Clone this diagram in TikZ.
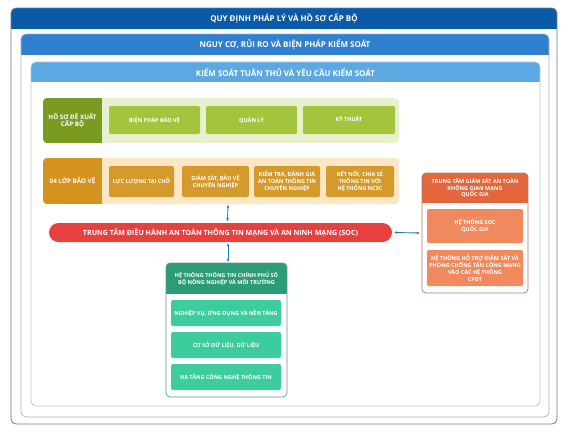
\documentclass[tikz,border=0pt]{standalone}
\usepackage{fontspec}
\setmainfont{Open Sans}
\usetikzlibrary{arrows.meta}
\definecolor{hdA}{HTML}{0B5AA8}
\definecolor{hdB}{HTML}{2F80CE}
\definecolor{hdC}{HTML}{5CA8E2}
\definecolor{bdA}{HTML}{5E7E96}
\definecolor{bdB}{HTML}{9FB2BE}
\definecolor{bdC}{HTML}{B4C4CC}
\definecolor{grD}{HTML}{7A9A20}
\definecolor{grL}{HTML}{E9F0CD}
\definecolor{grI}{HTML}{A5C43E}
\definecolor{orD}{HTML}{D4921F}
\definecolor{orL}{HTML}{FBE7C3}
\definecolor{orI}{HTML}{D59A2C}
\definecolor{socR}{HTML}{E8403F}
\definecolor{tlD}{HTML}{2B9C76}
\definecolor{tlI}{HTML}{3DCC9D}
\definecolor{tlB}{HTML}{5C9A86}
\definecolor{rsD}{HTML}{E2673D}
\definecolor{rsI}{HTML}{F08A5E}
\definecolor{rsB}{HTML}{B07A6A}
\definecolor{arr}{HTML}{1F7FC0}
\tikzset{
  x=1pt,y=-1pt,
  lbl/.style={text=white,font=\bfseries\fontsize{5.5}{6.9}\selectfont,align=center,inner sep=0pt},
  big/.style={font=\bfseries\fontsize{6.3}{7.8}\selectfont},
  hdr/.style={text=white,font=\bfseries\fontsize{8}{9.5}\selectfont,inner sep=0pt},
  ibox/.style={rounded corners=2pt,minimum width=#1,inner sep=0pt},
  link/.style={{Latex[length=3pt,width=3pt]}-{Latex[length=3pt,width=3pt]},arr,line width=0.9pt}
}
\begin{document}
\begin{tikzpicture}
\useasboundingbox (0,0) rectangle (568,434);
\fill[white] (0,0) rectangle (568,434);
% level 1
\begin{scope}
\clip[rounded corners=5pt] (11,8) rectangle (557,424);
\fill[hdA] (11,8) rectangle (557,29);
\end{scope}
\draw[bdA,line width=0.8pt,rounded corners=5pt] (11,8) rectangle (557,424);
\node[hdr] (h1) at (284,18.5) {QUY ĐỊNH PHÁP LÝ VÀ HỒ SƠ CẤP BỘ};
% level 2
\begin{scope}
\clip[rounded corners=5pt] (21,34) rectangle (549,417);
\fill[hdB] (21,34) rectangle (549,55);
\end{scope}
\draw[bdB,line width=0.7pt,rounded corners=5pt] (21,34) rectangle (549,417);
\node[hdr] (h2) at (285,44.5) {NGUY CƠ, RỦI RO VÀ BIỆN PHÁP KIỂM SOÁT};
% level 3
\begin{scope}
\clip[rounded corners=5pt] (31,62) rectangle (540,406);
\fill[hdC] (31,62) rectangle (540,82);
\end{scope}
\draw[bdC,line width=0.7pt,rounded corners=5pt] (31,62) rectangle (540,406);
\node[hdr] (h3) at (285.5,72) {KIỂM SOÁT TUÂN THỦ VÀ YÊU CẦU KIỂM SOÁT};
% green row
\fill[grL,rounded corners=4pt] (43,98) rectangle (399,143);
\begin{scope}
\clip[rounded corners=4pt] (43,98) rectangle (399,143);
\fill[grD] (43,98) rectangle (102,143);
\end{scope}
\node[lbl,big] (g0) at (72.5,120.5) {HỒ SƠ ĐỀ XUẤT\\CẤP BỘ};
\node[lbl,fill=grI,ibox=91pt,minimum height=28pt] (g1) at (154.5,120) {BIỆN PHÁP BẢO VỆ};
\node[lbl,fill=grI,ibox=91pt,minimum height=28pt] (g2) at (251.5,120) {QUẢN LÝ};
\node[lbl,fill=grI,ibox=92pt,minimum height=28pt] (g3) at (349,120) {KỸ THUẬT};
% orange row
\node[fill=orL,rounded corners=4pt,minimum width=356pt,minimum height=46pt,inner sep=0pt] (orow) at (221,181) {};
\begin{scope}
\clip[rounded corners=4pt] (43,158) rectangle (399,204);
\fill[orD] (43,158) rectangle (102,204);
\end{scope}
\node[lbl,big] (o0) at (72.5,181) {04 LỚP BẢO VỆ};
\node[lbl,fill=orI,ibox=65pt,minimum height=31pt] (o1) at (141.5,181.5) {LỰC LƯỢNG TẠI CHỖ};
\node[lbl,fill=orI,ibox=67pt,minimum height=31pt] (o2) at (215.5,181.5) {GIÁM SÁT, BẢO VỆ\\CHUYÊN NGHIỆP};
\node[lbl,fill=orI,ibox=66pt,minimum height=31pt] (o3) at (287,181.5) {KIỂM TRA, ĐÁNH GIÁ\\AN TOÀN THÔNG TIN\\CHUYÊN NGHIỆP};
\node[lbl,fill=orI,ibox=68pt,minimum height=31pt] (o4) at (360,181.5) {KẾT NỐI, CHIA SẺ\\THÔNG TIN VỚI\\HỆ THỐNG NCSC};
% SOC
\node[lbl,fill=socR,rounded corners=9.5pt,minimum width=343pt,minimum height=19pt,font=\bfseries\fontsize{7.1}{8.5}\selectfont] (soc) at (220.5,232.5) {TRUNG TÂM  ĐIỀU HÀNH AN TOÀN THÔNG TIN MẠNG VÀ AN NINH MẠNG (SOC)};
% government system box
\node[rounded corners=4pt,minimum width=121pt,minimum height=134pt,inner sep=0pt] (gov) at (226.5,330) {};
\begin{scope}
\clip[rounded corners=4pt] (166,263) rectangle (287,397);
\fill[tlD] (166,263) rectangle (287,294);
\end{scope}
\draw[tlB,line width=0.7pt,rounded corners=4pt] (166,263) rectangle (287,397);
\node[lbl] (govh) at (226.5,278.5) {HỆ THỐNG THÔNG TIN CHÍNH PHỦ SỐ\\BỘ NÔNG NGHIỆP VÀ MÔI TRƯỜNG};
\node[lbl,fill=tlI,ibox=110pt,minimum height=26pt] (t1) at (226,313) {NGHIỆP VỤ, ỨNG DỤNG VÀ NỀN TẢNG};
\node[lbl,fill=tlI,ibox=110pt,minimum height=26pt] (t2) at (226,345) {CƠ SỞ DỮ LIỆU, DỮ LIỆU};
\node[lbl,fill=tlI,ibox=110pt,minimum height=26pt] (t3) at (226,377) {HẠ  TẦNG CÔNG NGHỆ THÔNG TIN};
% national center
\node[rounded corners=4pt,minimum width=106pt,minimum height=120pt,inner sep=0pt] (nat) at (475,233) {};
\begin{scope}
\clip[rounded corners=4pt] (422,173) rectangle (528,293);
\fill[rsD] (422,173) rectangle (528,203);
\end{scope}
\draw[rsB,line width=0.7pt,rounded corners=4pt] (422,173) rectangle (528,293);
\node[lbl] (nath) at (475,188) {TRUNG TÂM GIÁM SÁT AN TOÀN\\KHÔNG GIAN MẠNG\\QUỐC GIA};
\node[lbl,fill=rsI,ibox=96pt,minimum height=34pt] (n1) at (475,226) {HỆ THỐNG SOC\\QUỐC GIA};
\node[lbl,fill=rsI,ibox=96pt,minimum height=36pt] (n2) at (475,268) {HỆ THỐNG HỖ TRỢ GIÁM SÁT VÀ\\PHÒNG CHỐNG TẤN CÔNG MẠNG\\VÀO CÁC HỆ THỐNG\\CPĐT};
% connectors
\draw[link] ([xshift=7pt,yshift=-0.5pt]orow.south) -- ([xshift=7pt,yshift=1.5pt]soc.north);
\draw[link] ([xshift=7.5pt,yshift=-1pt]soc.south) -- ([xshift=1.5pt,yshift=1pt]gov.north);
\draw[link] ([xshift=2pt]soc.east) -- ([xshift=-2pt]nat.west);
\end{tikzpicture}
\end{document}
